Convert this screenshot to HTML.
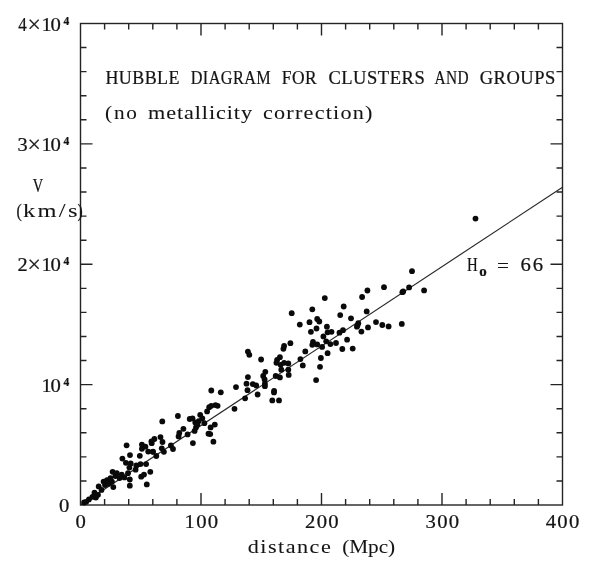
<!DOCTYPE html>
<html lang="en">
<head>
<meta charset="utf-8">
<title>Hubble diagram for clusters and groups</title>
<style>
html,body{margin:0;padding:0;background:#fff;}
body{width:600px;height:574px;overflow:hidden;}
svg{display:block;will-change:transform;}
text{font-family:"Liberation Serif", "DejaVu Serif", serif;fill:#141414;stroke:#141414;stroke-width:0.22px;}
.w{stroke-width:0.06px;}
.t{font-size:18.5px;}
.s{font-size:11px;}
</style>
</head>
<body>
<svg width="600" height="574" viewBox="0 0 600 574">
<rect x="0" y="0" width="600" height="574" fill="#ffffff"/>
<g stroke="#242424" stroke-width="1.4" fill="none" stroke-linecap="butt">
<rect x="80.50" y="23.50" width="482.00" height="481.50"/>
<path d="M104.60 505.00v-6.0M104.60 23.50v6.0M80.50 480.93h6.0M562.50 480.93h-6.0M128.70 505.00v-6.0M128.70 23.50v6.0M80.50 456.85h6.0M562.50 456.85h-6.0M152.80 505.00v-6.0M152.80 23.50v6.0M80.50 432.77h6.0M562.50 432.77h-6.0M176.90 505.00v-6.0M176.90 23.50v6.0M80.50 408.70h6.0M562.50 408.70h-6.0M201.00 505.00v-12.0M201.00 23.50v12.0M80.50 384.62h12.0M562.50 384.62h-12.0M225.10 505.00v-6.0M225.10 23.50v6.0M80.50 360.55h6.0M562.50 360.55h-6.0M249.20 505.00v-6.0M249.20 23.50v6.0M80.50 336.48h6.0M562.50 336.48h-6.0M273.30 505.00v-6.0M273.30 23.50v6.0M80.50 312.40h6.0M562.50 312.40h-6.0M297.40 505.00v-6.0M297.40 23.50v6.0M80.50 288.33h6.0M562.50 288.33h-6.0M321.50 505.00v-12.0M321.50 23.50v12.0M80.50 264.25h12.0M562.50 264.25h-12.0M345.60 505.00v-6.0M345.60 23.50v6.0M80.50 240.18h6.0M562.50 240.18h-6.0M369.70 505.00v-6.0M369.70 23.50v6.0M80.50 216.10h6.0M562.50 216.10h-6.0M393.80 505.00v-6.0M393.80 23.50v6.0M80.50 192.03h6.0M562.50 192.03h-6.0M417.90 505.00v-6.0M417.90 23.50v6.0M80.50 167.95h6.0M562.50 167.95h-6.0M442.00 505.00v-12.0M442.00 23.50v12.0M80.50 143.88h12.0M562.50 143.88h-12.0M466.10 505.00v-6.0M466.10 23.50v6.0M80.50 119.80h6.0M562.50 119.80h-6.0M490.20 505.00v-6.0M490.20 23.50v6.0M80.50 95.73h6.0M562.50 95.73h-6.0M514.30 505.00v-6.0M514.30 23.50v6.0M80.50 71.65h6.0M562.50 71.65h-6.0M538.40 505.00v-6.0M538.40 23.50v6.0M80.50 47.57h6.0M562.50 47.57h-6.0"/>
</g>
<line x1="80.50" y1="505.00" x2="562.50" y2="187.21" stroke="#262626" stroke-width="1.15"/>
<g fill="#0a0a0a">
<circle cx="84.1" cy="502.5" r="2.9"/>
<circle cx="86.2" cy="501.8" r="2.9"/>
<circle cx="88.9" cy="499.4" r="2.9"/>
<circle cx="92.4" cy="496.9" r="2.9"/>
<circle cx="94.5" cy="492.7" r="2.9"/>
<circle cx="95.9" cy="497.6" r="2.9"/>
<circle cx="98.0" cy="494.8" r="2.9"/>
<circle cx="98.7" cy="486.4" r="2.9"/>
<circle cx="101.5" cy="489.9" r="2.9"/>
<circle cx="103.6" cy="481.6" r="2.9"/>
<circle cx="105.0" cy="485.0" r="2.9"/>
<circle cx="107.0" cy="480.2" r="2.9"/>
<circle cx="108.4" cy="483.7" r="2.9"/>
<circle cx="110.5" cy="478.1" r="2.9"/>
<circle cx="111.9" cy="481.6" r="2.9"/>
<circle cx="112.6" cy="471.8" r="2.9"/>
<circle cx="113.3" cy="487.1" r="2.9"/>
<circle cx="115.4" cy="476.0" r="2.9"/>
<circle cx="116.8" cy="473.2" r="2.9"/>
<circle cx="119.6" cy="478.1" r="2.9"/>
<circle cx="121.7" cy="474.6" r="2.9"/>
<circle cx="122.4" cy="458.6" r="2.9"/>
<circle cx="124.5" cy="477.4" r="2.9"/>
<circle cx="125.9" cy="462.8" r="2.9"/>
<circle cx="126.6" cy="445.3" r="2.9"/>
<circle cx="128.0" cy="473.2" r="2.9"/>
<circle cx="129.4" cy="467.6" r="2.9"/>
<circle cx="129.8" cy="479.5" r="2.9"/>
<circle cx="129.8" cy="485.7" r="2.9"/>
<circle cx="130.0" cy="455.1" r="2.9"/>
<circle cx="130.7" cy="463.4" r="2.9"/>
<circle cx="135.6" cy="469.7" r="2.9"/>
<circle cx="136.3" cy="465.5" r="2.9"/>
<circle cx="139.8" cy="455.8" r="2.9"/>
<circle cx="140.5" cy="464.1" r="2.9"/>
<circle cx="141.2" cy="476.7" r="2.9"/>
<circle cx="141.9" cy="444.6" r="2.9"/>
<circle cx="141.9" cy="448.8" r="2.9"/>
<circle cx="144.0" cy="474.6" r="2.9"/>
<circle cx="145.4" cy="446.7" r="2.9"/>
<circle cx="146.1" cy="464.1" r="2.9"/>
<circle cx="146.8" cy="484.4" r="2.9"/>
<circle cx="148.2" cy="451.6" r="2.9"/>
<circle cx="150.3" cy="471.8" r="2.9"/>
<circle cx="151.7" cy="443.2" r="2.9"/>
<circle cx="153.0" cy="451.6" r="2.9"/>
<circle cx="154.4" cy="439.0" r="2.9"/>
<circle cx="151.4" cy="441.3" r="2.9"/>
<circle cx="152.8" cy="451.8" r="2.9"/>
<circle cx="156.3" cy="456.0" r="2.9"/>
<circle cx="160.5" cy="437.1" r="2.9"/>
<circle cx="162.5" cy="442.0" r="2.9"/>
<circle cx="161.8" cy="448.3" r="2.9"/>
<circle cx="163.9" cy="451.8" r="2.9"/>
<circle cx="162.3" cy="421.4" r="2.9"/>
<circle cx="170.9" cy="445.5" r="2.9"/>
<circle cx="173.0" cy="449.0" r="2.9"/>
<circle cx="177.9" cy="416.0" r="2.9"/>
<circle cx="178.6" cy="436.4" r="2.9"/>
<circle cx="179.3" cy="433.0" r="2.9"/>
<circle cx="183.4" cy="428.8" r="2.9"/>
<circle cx="187.6" cy="434.4" r="2.9"/>
<circle cx="189.7" cy="419.0" r="2.9"/>
<circle cx="192.5" cy="418.3" r="2.9"/>
<circle cx="192.9" cy="443.1" r="2.9"/>
<circle cx="194.6" cy="430.9" r="2.9"/>
<circle cx="195.3" cy="422.5" r="2.9"/>
<circle cx="196.0" cy="427.4" r="2.9"/>
<circle cx="198.8" cy="421.1" r="2.9"/>
<circle cx="200.2" cy="414.8" r="2.9"/>
<circle cx="202.3" cy="418.3" r="2.9"/>
<circle cx="204.4" cy="423.2" r="2.9"/>
<circle cx="207.1" cy="411.4" r="2.9"/>
<circle cx="208.5" cy="433.7" r="2.9"/>
<circle cx="209.2" cy="407.2" r="2.9"/>
<circle cx="210.6" cy="427.4" r="2.9"/>
<circle cx="211.3" cy="390.5" r="2.9"/>
<circle cx="211.3" cy="405.8" r="2.9"/>
<circle cx="213.4" cy="441.7" r="2.9"/>
<circle cx="214.8" cy="424.6" r="2.9"/>
<circle cx="215.5" cy="405.1" r="2.9"/>
<circle cx="217.6" cy="405.8" r="2.9"/>
<circle cx="220.8" cy="392.3" r="2.9"/>
<circle cx="234.5" cy="408.8" r="2.9"/>
<circle cx="236.0" cy="387.1" r="2.9"/>
<circle cx="245.1" cy="398.3" r="2.9"/>
<circle cx="246.5" cy="383.7" r="2.9"/>
<circle cx="247.5" cy="390.2" r="2.9"/>
<circle cx="247.9" cy="351.6" r="2.9"/>
<circle cx="247.9" cy="377.1" r="2.9"/>
<circle cx="249.3" cy="354.8" r="2.9"/>
<circle cx="252.8" cy="384.1" r="2.9"/>
<circle cx="256.2" cy="385.5" r="2.9"/>
<circle cx="257.6" cy="394.5" r="2.9"/>
<circle cx="261.1" cy="359.5" r="2.9"/>
<circle cx="263.2" cy="376.0" r="2.9"/>
<circle cx="264.6" cy="379.5" r="2.9"/>
<circle cx="264.9" cy="383.7" r="2.9"/>
<circle cx="265.3" cy="371.8" r="2.9"/>
<circle cx="264.9" cy="386.2" r="2.9"/>
<circle cx="272.3" cy="400.4" r="2.9"/>
<circle cx="274.1" cy="391.0" r="2.9"/>
<circle cx="275.7" cy="376.0" r="2.9"/>
<circle cx="276.4" cy="362.8" r="2.9"/>
<circle cx="277.1" cy="360.0" r="2.9"/>
<circle cx="279.0" cy="400.4" r="2.9"/>
<circle cx="279.9" cy="357.2" r="2.9"/>
<circle cx="279.9" cy="377.4" r="2.9"/>
<circle cx="280.6" cy="364.8" r="2.9"/>
<circle cx="281.3" cy="369.7" r="2.9"/>
<circle cx="283.4" cy="348.8" r="2.9"/>
<circle cx="284.1" cy="346.0" r="2.9"/>
<circle cx="284.1" cy="362.8" r="2.9"/>
<circle cx="288.3" cy="363.4" r="2.9"/>
<circle cx="288.3" cy="369.7" r="2.9"/>
<circle cx="288.7" cy="374.9" r="2.9"/>
<circle cx="290.4" cy="343.2" r="2.9"/>
<circle cx="300.4" cy="359.1" r="2.9"/>
<circle cx="291.7" cy="313.2" r="2.9"/>
<circle cx="299.8" cy="324.6" r="2.9"/>
<circle cx="305.3" cy="351.4" r="2.9"/>
<circle cx="309.5" cy="322.2" r="2.9"/>
<circle cx="310.9" cy="331.8" r="2.9"/>
<circle cx="312.3" cy="309.3" r="2.9"/>
<circle cx="313.0" cy="342.0" r="2.9"/>
<circle cx="312.3" cy="344.8" r="2.9"/>
<circle cx="316.5" cy="328.5" r="2.9"/>
<circle cx="317.2" cy="319.0" r="2.9"/>
<circle cx="317.2" cy="344.4" r="2.9"/>
<circle cx="319.3" cy="321.5" r="2.9"/>
<circle cx="320.9" cy="358.0" r="2.9"/>
<circle cx="322.1" cy="346.9" r="2.9"/>
<circle cx="323.4" cy="336.4" r="2.9"/>
<circle cx="324.8" cy="298.1" r="2.9"/>
<circle cx="326.2" cy="341.3" r="2.9"/>
<circle cx="326.9" cy="326.7" r="2.9"/>
<circle cx="327.6" cy="332.3" r="2.9"/>
<circle cx="327.6" cy="353.2" r="2.9"/>
<circle cx="330.4" cy="344.1" r="2.9"/>
<circle cx="331.5" cy="331.8" r="2.9"/>
<circle cx="336.0" cy="343.0" r="2.9"/>
<circle cx="339.5" cy="332.7" r="2.9"/>
<circle cx="340.2" cy="315.1" r="2.9"/>
<circle cx="342.3" cy="349.0" r="2.9"/>
<circle cx="343.0" cy="330.2" r="2.9"/>
<circle cx="343.7" cy="306.5" r="2.9"/>
<circle cx="347.1" cy="339.7" r="2.9"/>
<circle cx="351.0" cy="318.3" r="2.9"/>
<circle cx="352.7" cy="348.6" r="2.9"/>
<circle cx="356.9" cy="326.7" r="2.9"/>
<circle cx="358.3" cy="323.2" r="2.9"/>
<circle cx="361.4" cy="331.6" r="2.9"/>
<circle cx="362.1" cy="297.0" r="2.9"/>
<circle cx="366.7" cy="311.4" r="2.9"/>
<circle cx="367.4" cy="290.5" r="2.9"/>
<circle cx="368.0" cy="327.4" r="2.9"/>
<circle cx="376.0" cy="322.1" r="2.9"/>
<circle cx="382.3" cy="325.0" r="2.9"/>
<circle cx="384.0" cy="287.2" r="2.9"/>
<circle cx="388.6" cy="326.4" r="2.9"/>
<circle cx="401.8" cy="323.9" r="2.9"/>
<circle cx="403.2" cy="291.5" r="2.9"/>
<circle cx="409.1" cy="287.4" r="2.9"/>
<circle cx="412.0" cy="271.2" r="2.9"/>
<circle cx="424.1" cy="290.4" r="2.9"/>
<circle cx="210.2" cy="434.1" r="2.9"/>
<circle cx="197.4" cy="424.6" r="2.9"/>
<circle cx="274.0" cy="392.4" r="2.9"/>
<circle cx="402.4" cy="292.2" r="2.9"/>
<circle cx="357.4" cy="325.4" r="2.9"/>
<circle cx="302.8" cy="365.4" r="2.9"/>
<circle cx="320.0" cy="366.8" r="2.9"/>
<circle cx="316.1" cy="380.1" r="2.9"/>
<circle cx="475.5" cy="218.6" r="2.9"/>
</g>
<text transform="translate(18.20 30.80) scale(0.920 1)" font-size="18.50">4</text>
<text transform="translate(27.60 32.40) scale(1.030 1)" font-size="23.00">×</text>
<text transform="translate(41.60 30.80) scale(1.100 1)" font-size="18.50">1</text>
<text transform="translate(50.40 30.80) scale(1.120 1)" font-size="18.50">0</text>
<text transform="translate(63.60 25.10) scale(1.000 1)" font-size="11.50" font-weight="bold">4</text>
<text transform="translate(17.40 150.80) scale(1.100 1)" font-size="18.50">3</text>
<text transform="translate(27.60 152.40) scale(1.030 1)" font-size="23.00">×</text>
<text transform="translate(41.60 150.80) scale(1.100 1)" font-size="18.50">1</text>
<text transform="translate(50.40 150.80) scale(1.120 1)" font-size="18.50">0</text>
<text transform="translate(63.60 145.10) scale(1.000 1)" font-size="11.50" font-weight="bold">4</text>
<text transform="translate(17.60 270.80) scale(1.100 1)" font-size="18.50">2</text>
<text transform="translate(27.60 272.40) scale(1.030 1)" font-size="23.00">×</text>
<text transform="translate(41.60 270.80) scale(1.100 1)" font-size="18.50">1</text>
<text transform="translate(50.40 270.80) scale(1.120 1)" font-size="18.50">0</text>
<text transform="translate(63.60 265.10) scale(1.000 1)" font-size="11.50" font-weight="bold">4</text>
<text transform="translate(41.60 391.70) scale(1.100 1)" font-size="18.50">1</text>
<text transform="translate(50.40 391.70) scale(1.120 1)" font-size="18.50">0</text>
<text transform="translate(63.60 386.00) scale(1.000 1)" font-size="11.50" font-weight="bold">4</text>
<text transform="translate(59.00 511.60) scale(1.120 1)" font-size="18.50">0</text>
<text transform="translate(32.80 192.10) scale(0.780 1)" font-size="18.50">V</text>
<text transform="translate(16.60 216.50) scale(0.850 1)" font-size="18.50">(</text>
<text class="w" transform="translate(23.00 216.50) scale(1.320 1)" font-size="18.50" textLength="41.29" lengthAdjust="spacing">km/s</text>
<text transform="translate(77.40 216.50) scale(0.850 1)" font-size="18.50">)</text>
<text transform="translate(75.60 528.30) scale(1.120 1)" font-size="18.50">0</text>
<text transform="translate(184.60 528.30) scale(1.120 1)" font-size="18.50" textLength="30.00" lengthAdjust="spacing">100</text>
<text transform="translate(305.10 528.30) scale(1.120 1)" font-size="18.50" textLength="30.00" lengthAdjust="spacing">200</text>
<text transform="translate(425.60 528.30) scale(1.120 1)" font-size="18.50" textLength="30.00" lengthAdjust="spacing">300</text>
<text transform="translate(545.70 528.30) scale(1.120 1)" font-size="18.50" textLength="30.00" lengthAdjust="spacing">400</text>
<text class="w" transform="translate(247.80 553.30) scale(1.200 1)" font-size="18.50" textLength="69.17" lengthAdjust="spacing">distance</text>
<text class="w" transform="translate(342.20 553.30) scale(1.150 1)" font-size="18.50" textLength="46.09" lengthAdjust="spacing">(Mpc)</text>
<text transform="translate(105.40 84.20) scale(0.971 1)" font-size="18.50" textLength="76.29" lengthAdjust="spacing">HUBBLE</text>
<text transform="translate(190.70 84.20) scale(0.878 1)" font-size="18.50" textLength="91.13" lengthAdjust="spacing">DIAGRAM</text>
<text transform="translate(281.70 84.20) scale(0.943 1)" font-size="18.50" textLength="37.11" lengthAdjust="spacing">FOR</text>
<text transform="translate(328.40 84.20) scale(1.000 1)" font-size="18.50" textLength="96.30" lengthAdjust="spacing">CLUSTERS</text>
<text transform="translate(434.40 84.20) scale(0.830 1)" font-size="18.50" textLength="41.34" lengthAdjust="spacing">AND</text>
<text transform="translate(479.70 84.20) scale(1.000 1)" font-size="18.50" textLength="75.70" lengthAdjust="spacing">GROUPS</text>
<text class="w" transform="translate(105.00 119.20) scale(1.150 1)" font-size="18.50" textLength="27.83" lengthAdjust="spacing">(no</text>
<text class="w" transform="translate(148.00 119.20) scale(1.200 1)" font-size="18.50" textLength="86.67" lengthAdjust="spacing">metallicity</text>
<text class="w" transform="translate(263.00 119.20) scale(1.200 1)" font-size="18.50" textLength="91.25" lengthAdjust="spacing">correction)</text>
<text transform="translate(467.00 270.60) scale(0.800 1)" font-size="18.50">H</text>
<text transform="translate(479.20 276.00) scale(1.000 1)" font-size="15.00" font-weight="bold">o</text>
<text class="w" transform="translate(497.00 271.80) scale(1.150 1)" font-size="18.50">=</text>
<text transform="translate(520.60 270.60) scale(1.120 1)" font-size="18.50" textLength="20.09" lengthAdjust="spacing">66</text>
</svg>
</body>
</html>
